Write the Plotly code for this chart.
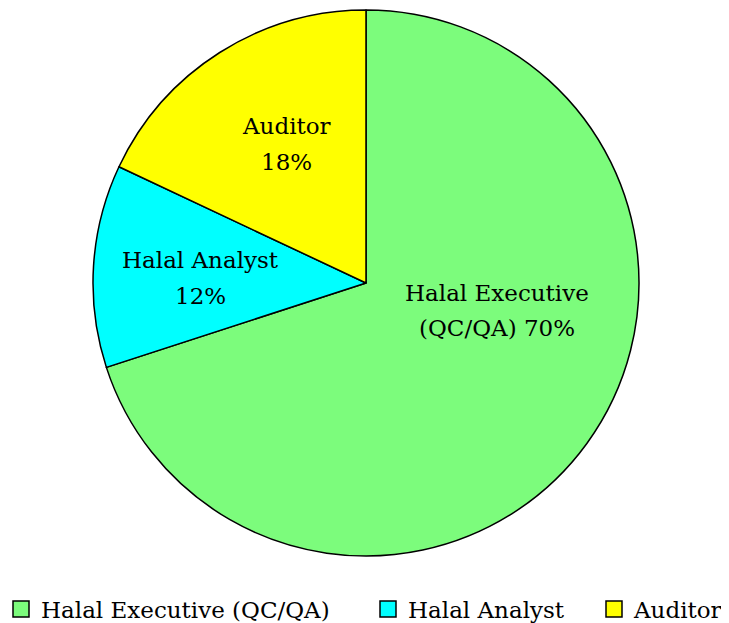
import plotly.graph_objects as go

categories = ["Halal Executive (QC/QA)", "Halal Analyst", "Auditor"]
values = [70, 12, 18]
label_lines = [["Halal Executive", "(QC/QA) 70%"], ["Halal Analyst", "12%"], ["Auditor", "18%"]]
colors = ["#7CFC7C", "#00FFFF", "#FFFF00"]

W, H = 729, 623
DX, DY = -8, -6          # page offset compensation
cx, cy, r = 366, 281, 273
FONT = "DejaVu Serif"
FS = 23

# label block centres (px) and line spacing
label_pos = [(497, 308), (200, 276), (286, 142)]
line_gap = 35
# legend square left edges (px)
legend_x = [13, 380, 606]
legend_y = 607


def px(x):
    return (x + DX) / W


def py(y):
    return 1 - (y + DY) / H


fig = go.Figure()
fig.add_trace(go.Pie(
    labels=categories,
    values=values,
    textinfo="none",
    sort=False,
    direction="clockwise",
    rotation=0,
    marker=dict(colors=colors, line=dict(color="black", width=1.5)),
    domain=dict(x=[px(cx - r), px(cx + r)], y=[py(cy + r), py(cy - r)]),
    showlegend=False,
    hoverinfo="label+percent",
))

legend_names = ["legend", "legend2", "legend3"]
for name, col, lg in zip(categories, colors, legend_names):
    fig.add_trace(go.Scatter(
        x=[None], y=[None], mode="markers", name=name, legend=lg,
        marker=dict(symbol="square", size=18, color=col, line=dict(color="black", width=1.5)),
    ))

annotations = []
for (lx, ly), lines in zip(label_pos, label_lines):
    n = len(lines)
    for i, t in enumerate(lines):
        yy = ly + (i - (n - 1) / 2) * line_gap
        annotations.append(dict(
            x=px(lx), y=py(yy), xref="paper", yref="paper", text=t, showarrow=False,
            xanchor="center", yanchor="middle",
            font=dict(family=FONT, size=FS, color="black"),
        ))

layout_legends = {}
for lg, lx in zip(legend_names, legend_x):
    layout_legends[lg] = dict(
        orientation="h", x=px(lx - 12), xanchor="left", y=py(legend_y), yanchor="middle",
        font=dict(family=FONT, size=FS, color="black"), itemwidth=30,
        bgcolor="rgba(0,0,0,0)", itemclick=False, itemdoubleclick=False,
    )

fig.update_layout(
    width=W, height=H,
    margin=dict(l=0, r=0, t=0, b=0, autoexpand=False),
    paper_bgcolor="white", plot_bgcolor="white",
    font=dict(family=FONT, size=FS, color="black"),
    xaxis=dict(visible=False), yaxis=dict(visible=False),
    annotations=annotations,
    showlegend=True,
    **layout_legends,
)

fig.write_html("out.html")
